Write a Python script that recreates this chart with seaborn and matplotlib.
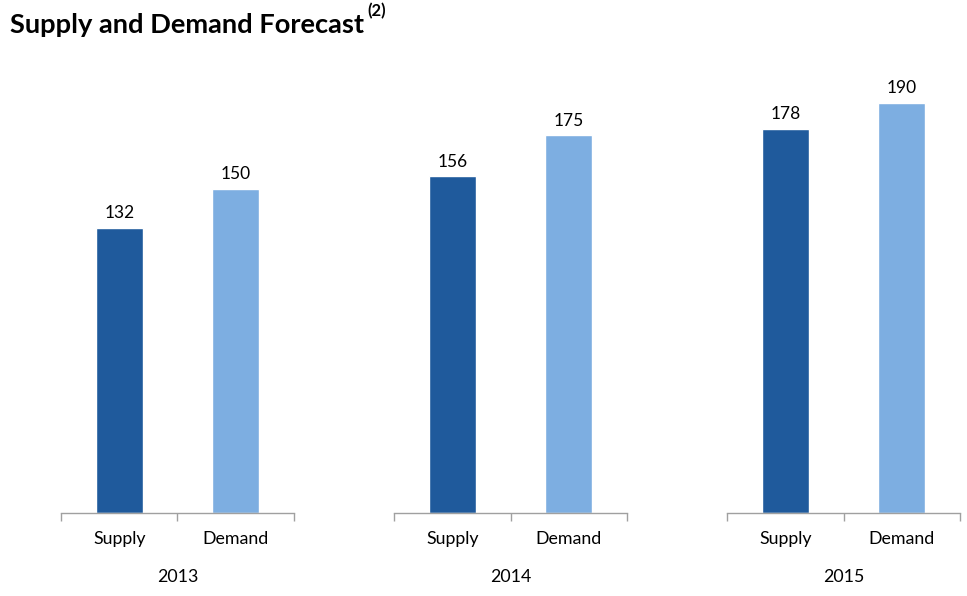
import pandas as pd
import seaborn as sns
import matplotlib.pyplot as plt
from matplotlib.ticker import FixedLocator

years = ["2013", "2014", "2015"]
categories = ["Supply", "Demand"]
supply = [132, 156, 178]
demand = [150, 175, 190]

colors = {"Supply": "#1F5A9C", "Demand": "#7DAEE1"}

sns.set_style("white")
plt.rcParams["font.family"] = ["Lato", "DejaVu Sans"]

fig = plt.figure(figsize=(9.67, 5.96), dpi=100)

lefts = [61, 394, 727]
for i, yr in enumerate(years):
    df = pd.DataFrame({"cat": categories, "val": [supply[i], demand[i]]})
    ax = fig.add_axes([lefts[i] / 967, 83 / 596, 233 / 967, 453 / 596])
    sns.barplot(data=df, x="cat", y="val", hue="cat", palette=colors,
                width=0.4, legend=False, ax=ax, saturation=1)
    for c in ax.containers:
        ax.bar_label(c, padding=5, fontsize=12.5, color="black")
    ax.set_xlim(-0.5, 1.5)
    ax.set_ylim(0, 210)
    ax.set_yticks([])
    ax.set_ylabel("")
    ax.xaxis.set_major_locator(FixedLocator([-0.5, 0.5, 1.5]))
    ax.xaxis.set_minor_locator(FixedLocator([0, 1]))
    ax.set_xticklabels([], minor=False)
    ax.set_xticklabels(categories, minor=True, fontsize=12.75, color="black")
    ax.tick_params(axis="x", which="major", bottom=True, length=6, width=1, color="#A0A0A0", direction="out")
    ax.tick_params(axis="x", which="minor", bottom=False, length=0, pad=13)
    ax.set_xlabel(yr, fontsize=12.75, labelpad=16, color="black")
    for s in ["top", "right", "left"]:
        ax.spines[s].set_visible(False)
    ax.spines["bottom"].set_color("#A0A0A0")
    ax.spines["bottom"].set_linewidth(1)

fig.text(10 / 967, 1 - 25 / 596, "Supply and Demand Forecast", fontsize=19.6,
         fontweight="bold", va="center", ha="left", color="black")
fig.text(367 / 967, 1 - 11 / 596, "(2)", fontsize=12, fontweight="bold",
         va="center", ha="left", color="black")

fig.savefig("out.png", dpi=100)
